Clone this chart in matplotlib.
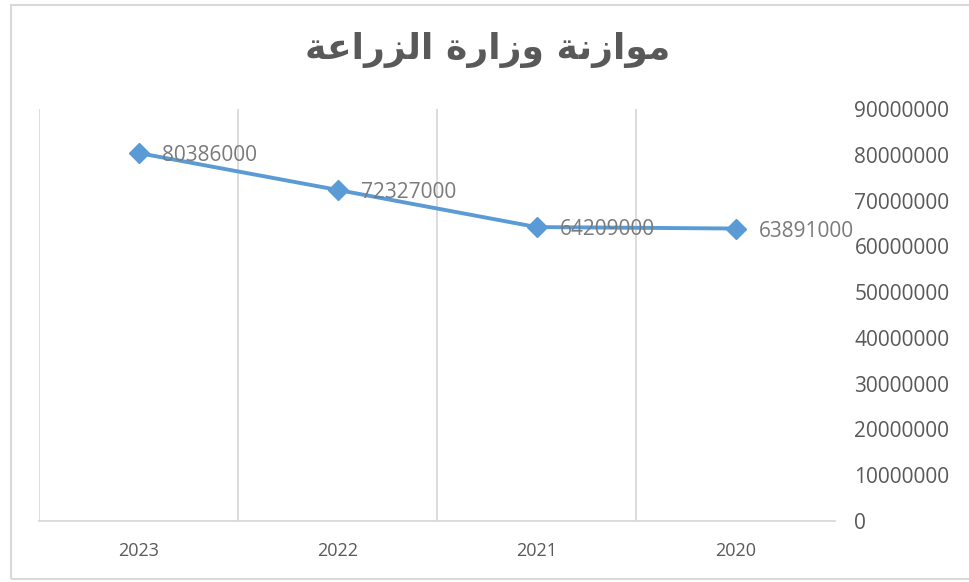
import matplotlib
matplotlib.use('Agg')
import matplotlib.pyplot as plt
from matplotlib.patches import Rectangle

years = ['2020', '2021', '2022', '2023']
budget = [63891000, 64209000, 72327000, 80386000]
title = 'موازنة وزارة الزراعة'
yticks = list(range(0, 90000001, 10000000))

# matplotlib has no Arabic shaping: pick presentation forms by hand
# (isolated, final, initial, medial); right-joining letters only have two
forms = {
    'م': '\uFEE1\uFEE2\uFEE3\uFEE4',
    'ن': '\uFEE5\uFEE6\uFEE7\uFEE8',
    'ل': '\uFEDD\uFEDE\uFEDF\uFEE0',
    'ع': '\uFEC9\uFECA\uFECB\uFECC',
    'و': '\uFEED\uFEEE',
    'ا': '\uFE8D\uFE8E',
    'ز': '\uFEAF\uFEB0',
    'ر': '\uFEAD\uFEAE',
    'ة': '\uFE93\uFE94',
}

def shape(s):
    out = []
    for i, c in enumerate(s):
        if c not in forms:
            out.append(c)
            continue
        f = forms[c]
        prev = s[i - 1] if i > 0 else ''
        nxt = s[i + 1] if i + 1 < len(s) else ''
        jp = prev in forms and len(forms[prev]) == 4
        jn = nxt in forms and len(f) == 4
        idx = 3 if (jp and jn) else 1 if jp else 2 if jn else 0
        out.append(f[idx])
    return ''.join(reversed(out))

grey = '#595959'
fig = plt.figure(figsize=(9.69, 5.82), dpi=100)
fig.patches.append(Rectangle((11 / 969, 3 / 582), 1.2, 574 / 582, transform=fig.transFigure,
                             fill=False, edgecolor='#d9d9d9', linewidth=1.5))

ax = fig.add_axes([39 / 969, 1 - 521 / 582, 796 / 969, 412 / 582])
x = list(range(len(years)))
ax.plot(x, budget, color='#5B9BD5', lw=2.8, marker='D', ms=10.5, zorder=3)
for xi, v in zip(x, budget):
    ax.annotate(str(v), (xi, v), xytext=(17, -2), textcoords='offset points',
                ha='left', va='center', fontsize=15, color='#7a7a7a',
                family='Open Sans', zorder=4)

ax.set_xlim(3.5, -0.5)
ax.set_ylim(0, 90000000)
ax.set_xticks(x)
ax.set_xticklabels(years, family='Open Sans', fontsize=13, color=grey)
ax.set_xticks([0.5, 1.5, 2.5, 3.5], minor=True)
ax.grid(axis='x', which='minor', color='#d9d9d9', lw=1.3)
ax.set_yticks(yticks)
ax.set_yticklabels([str(t) for t in yticks], family='Open Sans', fontsize=15, color=grey)
ax.yaxis.tick_right()
ax.tick_params(axis='y', length=0, pad=14)
ax.tick_params(axis='x', which='both', length=0, pad=15)
for s in ['top', 'left', 'right']:
    ax.spines[s].set_visible(False)
ax.spines['bottom'].set_color('#d9d9d9')
ax.spines['bottom'].set_linewidth(1.3)

fig.text(488 / 969, 1 - 50 / 582, shape(title), ha='center', va='center',
         fontsize=26, fontweight='bold', color=grey, family='DejaVu Sans')

fig.savefig('out.png', dpi=100)
